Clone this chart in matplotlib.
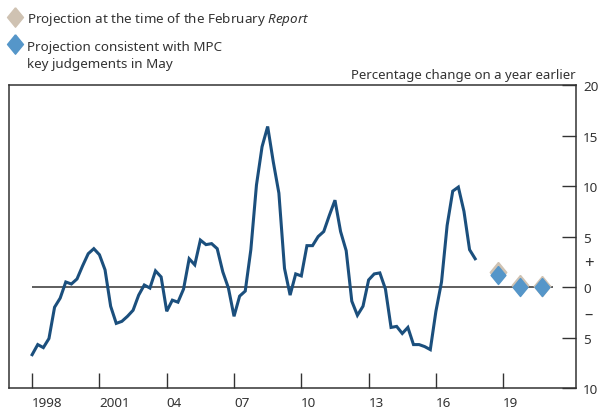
import matplotlib
matplotlib.use("Agg")
import matplotlib.pyplot as plt
import numpy as np
from matplotlib.lines import Line2D
from matplotlib.ticker import FixedLocator, FuncFormatter

plt.rcParams["font.family"] = ["Noto Sans", "DejaVu Sans"]
plt.rcParams["mathtext.fontset"] = "custom"
plt.rcParams["mathtext.rm"] = "Noto Sans"
plt.rcParams["mathtext.it"] = "Noto Sans:italic"

NAVY = "#1b4f7d"
BEIGE = "#cfc2b2"
BLUE = "#5596c9"
INK = "#333333"
FS = 9.7

# taller-than-wide diamond used for the projection markers
DIAMOND = [(0, 1), (0.82, 0), (0, -1), (-0.82, 0), (0, 1)]

# quarterly outturns, 1998 Q1 to 2017 Q4 (% change on a year earlier)
first_year = 1998
outturn = [
    -6.7, -5.7, -6.0, -5.1,
    -2.0, -1.1, 0.5, 0.3,
    0.8, 2.1, 3.3, 3.8,
    3.2, 1.7, -1.9, -3.6,
    -3.4, -2.9, -2.3, -0.8,
    0.2, -0.1, 1.6, 1.0,
    -2.4, -1.3, -1.5, -0.2,
    2.8, 2.2, 4.65, 4.2,
    4.3, 3.8, 1.5, -0.1,
    -2.9, -0.9, -0.4, 3.7,
    10.1, 13.9, 15.9, 12.4,
    9.3, 1.85, -0.8, 1.3,
    1.1, 4.1, 4.1, 5.0,
    5.5, 7.1, 8.6, 5.5,
    3.6, -1.4, -2.8, -1.9,
    0.7, 1.3, 1.4, -0.2,
    -4.0, -3.9, -4.6, -4.0,
    -5.7, -5.7, -5.9, -6.2,
    -2.4, 0.5, 6.1, 9.5,
    9.9, 7.5, 3.7, 2.8,
]

# Q4 projections, 2018-2020
proj_dates = [2018.75, 2019.75, 2020.75]
proj_feb = [1.5, 0.2, 0.1]
proj_may = [1.2, 0.0, 0.0]

year_ticks = [1998, 2001, 2004, 2007, 2010, 2013, 2016, 2019]
year_labels = ["1998", "2001", "04", "07", "10", "13", "16", "19"]

dates = first_year + np.arange(len(outturn)) / 4

fig = plt.figure(figsize=(6.02, 4.14), dpi=100)
ax = fig.add_axes([0.015, 0.0604, 0.942, 0.7316])

ax.hlines(0, 1998, 2021.2, color=INK, linewidth=1.1, zorder=1)
ax.plot(dates, outturn, color=NAVY, linewidth=2.2, solid_joinstyle="miter", zorder=3)
ax.plot(proj_dates, proj_feb, linestyle="none", marker=DIAMOND, markersize=14.5,
        color=BEIGE, zorder=4)
ax.plot(proj_dates, proj_may, linestyle="none", marker=DIAMOND, markersize=13,
        color=BLUE, zorder=5)

ax.set_xlim(1996.97, 2022.25)
ax.set_ylim(-10, 20)

ax.set_xticks(year_ticks)
ax.set_xticklabels(year_labels, ha="left")
ax.tick_params(axis="x", direction="in", length=11, width=1, color=INK,
               labelsize=FS, labelcolor=INK, pad=6)

ax.yaxis.set_major_locator(FixedLocator([-10, -5, 0, 5, 10, 15, 20]))
ax.yaxis.set_major_formatter(FuncFormatter(lambda v, _: f"{abs(v):g}"))
ax.yaxis.set_minor_locator(FixedLocator([-5, 5, 10, 15]))
ax.tick_params(axis="y", which="major", direction="in", length=10, width=1,
               color=INK, left=False, right=True, labelleft=False,
               labelright=True, labelsize=FS, labelcolor=INK, pad=5)
ax.tick_params(axis="y", which="minor", direction="in", length=10, width=1,
               color=INK, left=True, right=False)

for side in ax.spines.values():
    side.set_color(INK)
    side.set_linewidth(1.1)

fig.text(0.9785, 0.362, "+", ha="center", va="center", fontsize=12, color=INK)
fig.text(0.977, 0.24, "\u2013", ha="center", va="center", fontsize=12, color=INK)
fig.text(0.957, 0.8085, "Percentage change on a year earlier", ha="right",
         va="baseline", fontsize=9.5, color=INK)

# key, top left
key_markers = [(BEIGE, 0.9558), (BLUE, 0.8906)]
key_lines = [
    ("Projection at the time of the February $\\it{Report}$", 0.9437),
    ("Projection consistent with MPC", 0.8775),
    ("key judgements in May", 0.835),
]
for colour, y in key_markers:
    fig.add_artist(Line2D([0.0257], [y], transform=fig.transFigure,
                          linestyle="none", marker=DIAMOND, markersize=14,
                          color=colour))
for label, y in key_lines:
    fig.text(0.0454, y, label, ha="left", va="baseline", fontsize=FS, color=INK)

fig.savefig("out.png", dpi=100)
